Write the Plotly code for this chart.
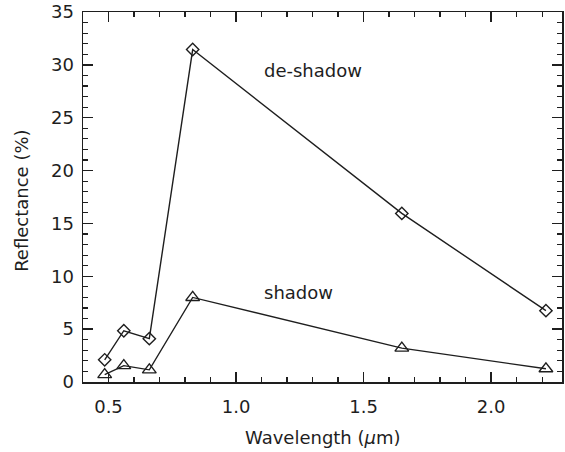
import plotly.graph_objects as go

# Data
wavelength = [0.485, 0.56, 0.66, 0.83, 1.65, 2.215]
deshadow = [2.1, 4.85, 4.1, 31.45, 15.95, 6.75]
shadow = [0.7, 1.55, 1.15, 8.0, 3.2, 1.25]
x_ticks = [0.5, 1.0, 1.5, 2.0]
x_ticklabels = ["0.5", "1.0", "1.5", "2.0"]
y_ticks = [0, 5, 10, 15, 20, 25, 30, 35]
x_range = [0.4, 2.278]
y_range = [0, 35]

INK = "#1e1e1e"
FONT = "DejaVu Sans"

fig = go.Figure()
fig.add_trace(go.Scatter(
    x=wavelength, y=deshadow, mode="lines+markers",
    line=dict(color=INK, width=1.4),
    marker=dict(symbol="diamond-open", size=9.5, color=INK, line=dict(width=1.4, color=INK)),
    showlegend=False, name="de-shadow"))
fig.add_trace(go.Scatter(
    x=wavelength, y=shadow, mode="lines+markers",
    line=dict(color=INK, width=1.4),
    marker=dict(symbol="triangle-up-open", size=12, color=INK, line=dict(width=1.4, color=INK)),
    showlegend=False, name="shadow"))

tick_common = dict(
    showgrid=False, zeroline=False, ticks="inside", ticklen=10, tickwidth=1.3, tickcolor=INK,
    tickfont=dict(family=FONT, size=18, color=INK),
)
xminor = dict(dtick=0.1, tick0=0.4, ticklen=5, tickwidth=1.2, tickcolor=INK, ticks="inside")
yminor = dict(dtick=1, tick0=0, ticklen=5, tickwidth=1.2, tickcolor=INK, ticks="inside")

fig.update_layout(
    xaxis=dict(range=x_range, tickmode="array", tickvals=x_ticks, ticktext=x_ticklabels,
               minor=xminor, ticklabelstandoff=8, showline=True, linecolor=INK,
               linewidth=1.5, mirror=True, **tick_common),
    yaxis=dict(range=y_range, tickmode="array", tickvals=y_ticks,
               minor=yminor, ticklabelstandoff=4, showline=True, linecolor=INK,
               linewidth=1.5, mirror=True, **tick_common),
    # top and right tick marks (IDL style box ticks)
    xaxis2=dict(range=x_range, overlaying="x", side="top", anchor="y",
                tickmode="array", tickvals=x_ticks, showticklabels=False,
                minor=xminor, showline=False, fixedrange=True, **tick_common),
    yaxis2=dict(range=y_range, overlaying="y", side="right", anchor="x",
                tickmode="array", tickvals=y_ticks, showticklabels=False,
                minor=yminor, showline=False, fixedrange=True, **tick_common),
)
# invisible helper trace so the top/right tick axes are drawn
fig.add_trace(go.Scatter(x=[x_range[0]], y=[y_range[0]], xaxis="x2", yaxis="y2",
                         mode="markers", marker=dict(opacity=0), hoverinfo="skip",
                         showlegend=False))

fig.add_annotation(x=1.102, y=29.5, xref="x", yref="y", text="de-shadow",
                   showarrow=False, xanchor="left", yanchor="middle",
                   font=dict(family=FONT, size=18, color=INK))
fig.add_annotation(x=1.102, y=8.5, xref="x", yref="y", text="shadow",
                   showarrow=False, xanchor="left", yanchor="middle",
                   font=dict(family=FONT, size=18, color=INK))

# Axis titles
fig.add_annotation(x=0.5, y=-0.15, xref="paper", yref="paper",
                   text="Wavelength (<i>μ</i>m)", showarrow=False,
                   xanchor="center", yanchor="middle",
                   font=dict(family=FONT, size=18, color=INK))
fig.add_annotation(x=-0.127, y=0.49, xref="paper", yref="paper",
                   text="Reflectance (%)", showarrow=False, textangle=-90,
                   xanchor="center", yanchor="middle",
                   font=dict(family=FONT, size=18, color=INK))

fig.update_layout(
    width=565, height=452,
    margin=dict(l=83, r=1, t=12, b=70),
    plot_bgcolor="white", paper_bgcolor="white",
)

fig.write_html("out.html", config={"displayModeBar": False, "staticPlot": True})

# remove the browser's default body margin so the figure sits at the page origin
with open("out.html", "r", encoding="utf-8") as f:
    html = f.read()
html = html.replace("<head>", "<head><style>html,body{margin:0;padding:0;overflow:hidden;}</style>", 1)
with open("out.html", "w", encoding="utf-8") as f:
    f.write(html)
